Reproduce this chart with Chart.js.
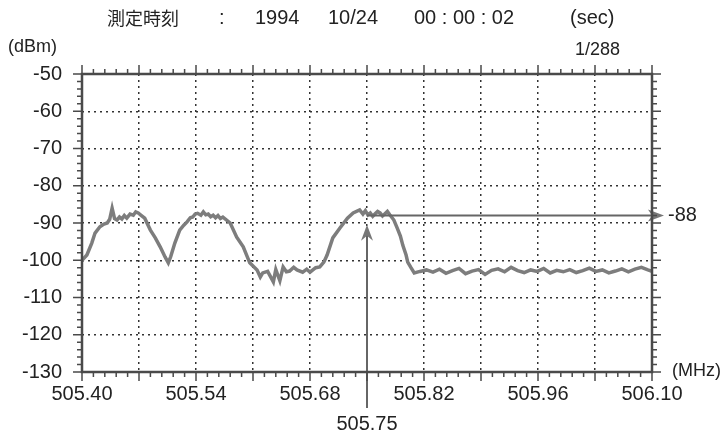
<!DOCTYPE html>
<html>
<head>
<meta charset="utf-8">
<script src="https://cdn.jsdelivr.net/npm/chart.js@4.4.0/dist/chart.umd.min.js"></script>
<style>
body{margin:0;background:#fff;}
#caja{width:721px;height:434px;}
</style>
</head>
<body>
<div id="caja"><canvas id="grafica" width="721" height="434"></canvas></div>
<script>
// datos (MHz / dBm)
const frecuencias=[
505.400,505.406,505.412,505.416,505.422,505.427,505.431,505.434,505.437,505.440,
505.443,505.446,505.449,505.452,505.455,505.459,505.463,505.466,505.469,505.473,
505.477,505.484,505.490,505.496,505.502,505.506,505.509,505.514,505.520,505.525,
505.529,505.533,505.536,505.539,505.542,505.546,505.549,505.552,505.555,505.558,
505.561,505.564,505.567,505.570,505.573,505.582,505.590,505.598,505.606,505.615,
505.619,505.622,505.628,505.635,505.638,505.643,505.647,505.651,505.655,505.660,
505.664,505.671,505.676,505.680,505.687,505.692,505.697,505.701,505.708,505.717,
505.726,505.733,505.741,505.745,505.748,505.751,505.754,505.757,505.760,505.763,
505.766,505.769,505.772,505.775,505.778,505.783,505.787,505.791,505.794,505.798,
505.800,505.804,505.808,505.815,505.823,505.831,505.839,505.847,505.855,505.863,
505.871,505.879,505.887,505.895,505.903,505.911,505.919,505.927,505.935,505.943,
505.951,505.959,505.967,505.975,505.983,505.991,505.999,506.007,506.015,506.023,
506.031,506.039,506.047,506.055,506.063,506.071,506.079,506.087,506.095,506.100
];
const niveles=[
-100.0,-98.6,-95.4,-92.7,-91.0,-90.3,-90.0,-89.0,-86.0,-88.8,
-89.2,-88.4,-88.9,-88.0,-88.7,-87.6,-87.9,-87.0,-87.3,-88.0,
-88.7,-91.9,-94.0,-96.4,-99.1,-100.7,-99.0,-95.4,-91.9,-90.6,
-89.7,-88.6,-88.4,-87.6,-87.4,-87.9,-87.0,-87.8,-87.6,-88.3,
-87.9,-88.6,-88.0,-88.8,-88.4,-90.0,-93.8,-96.4,-100.7,-102.6,
-104.5,-103.4,-103.0,-105.8,-102.5,-105.5,-101.8,-103.1,-102.9,-101.9,
-102.6,-103.2,-102.4,-103.2,-102.0,-101.8,-100.5,-98.6,-94.0,-91.3,
-88.7,-87.3,-86.5,-87.6,-86.7,-87.8,-87.3,-88.2,-87.5,-86.9,
-87.3,-88.1,-87.5,-86.9,-87.8,-89.2,-91.3,-93.5,-96.0,-98.6,
-100.5,-102.0,-103.4,-103.0,-102.6,-103.2,-102.4,-103.5,-102.8,-102.2,
-103.6,-102.9,-102.5,-103.8,-102.7,-102.3,-103.1,-101.9,-102.8,-103.3,
-102.6,-103.0,-102.2,-103.4,-102.7,-103.1,-102.5,-103.3,-102.8,-102.1,
-103.0,-102.6,-103.4,-102.9,-102.3,-103.1,-102.4,-101.9,-102.6,-103.0
];
const rejillaX=[505.40,505.47,505.54,505.61,505.68,505.75,505.82,505.89,505.96,506.03,506.10];
const etiquetasX=[505.40,505.54,505.68,505.82,505.96,506.10];
const etiquetasY=[-130,-120,-110,-100,-90,-80,-70,-60,-50];
const marcaFrec=505.75;
const marcaNivel=-88;
const puntaVertical=-90.5;
const titulo=[["測定時刻",107],[":",219],["1994",255],["10/24",328],["00 : 00 : 02",414],["(sec)",570]];

const fuente="'Liberation Sans', 'Noto Sans', sans-serif";
const fuenteJp="'Noto Sans CJK JP', sans-serif";
const gris='#7d7d7d';

const marco={
    id:'marco',
    afterDatasetsDraw(chart){
        const {ctx,chartArea:a,scales:{x,y}}=chart;
        ctx.save();
        // marcador
        const mx=x.getPixelForValue(marcaFrec);
        const my=y.getPixelForValue(marcaNivel);
        const ty=y.getPixelForValue(puntaVertical);
        ctx.strokeStyle='#666';
        ctx.fillStyle='#777';
        ctx.lineWidth=2;
        ctx.beginPath();
        ctx.moveTo(mx,my);ctx.lineTo(a.right,my);
        ctx.moveTo(mx,a.bottom+36);ctx.lineTo(mx,ty+8);
        ctx.stroke();
        ctx.beginPath();
        ctx.moveTo(a.right+12,my);ctx.lineTo(a.right-4,my-6);ctx.lineTo(a.right,my);ctx.lineTo(a.right-4,my+6);ctx.closePath();
        ctx.fill();
        ctx.beginPath();
        ctx.moveTo(mx,ty);ctx.lineTo(mx-6,ty+16);ctx.lineTo(mx,ty+11);ctx.lineTo(mx+6,ty+16);ctx.closePath();
        ctx.fill();

        // caja y marcas
        ctx.strokeStyle='#4a4a4a';
        ctx.lineWidth=2.5;
        ctx.strokeRect(a.left,a.top,a.right-a.left,a.bottom-a.top);
        ctx.lineWidth=1.5;
        ctx.beginPath();
        for(let i=0;i<=50;i++){
            const px=x.getPixelForValue(505.40+i*0.014);
            const l=i%5===0?9:5;
            ctx.moveTo(px,a.bottom);ctx.lineTo(px,a.bottom+l);
            ctx.moveTo(px,a.top);ctx.lineTo(px,a.top-l);
        }
        for(let i=0;i<=40;i++){
            const py=y.getPixelForValue(-130+i*2);
            const l=i%5===0?9:5;
            ctx.moveTo(a.left,py);ctx.lineTo(a.left-l,py);
            ctx.moveTo(a.right,py);ctx.lineTo(a.right+l,py);
        }
        ctx.stroke();

        // textos
        ctx.fillStyle='#222';
        ctx.textBaseline='middle';
        ctx.textAlign='left';
        titulo.forEach(([t,px])=>{
            ctx.font=(/[^\x00-\x7f]/.test(t)?'18px '+fuenteJp:'20px '+fuente);
            ctx.fillText(t,px,18);
        });
        ctx.font='18px '+fuente;
        ctx.fillText('(dBm)',8,47);
        ctx.fillText('1/288',575,50);
        ctx.font='20px '+fuente;
        ctx.fillText(String(marcaNivel),668,my);
        ctx.font='18px '+fuente;
        ctx.fillText('(MHz)',672,a.bottom-1);
        ctx.font='20px '+fuente;
        ctx.textAlign='center';
        ctx.fillText(marcaFrec.toFixed(2),mx,424);
        ctx.restore();
    }
};

new Chart(document.getElementById('grafica'),{
    type:'line',
    data:{
        datasets:[{
            data:frecuencias.map((f,i)=>({x:f,y:niveles[i]})),
            borderColor:gris,
            borderWidth:3.5,
            pointRadius:0,
            tension:0
        }]
    },
    options:{
        responsive:false,
        animation:false,
        events:[],
        layout:{padding:{left:0,top:74,right:69,bottom:0}},
        plugins:{legend:{display:false},tooltip:{enabled:false}},
        scales:{
            x:{
                type:'linear',
                min:505.40,
                max:506.10,
                afterBuildTicks:s=>{s.ticks=rejillaX.map(v=>({value:v}));},
                afterFit:s=>{s.height=62;},
                grid:{color:'#333',lineWidth:1.5,drawTicks:false},
                border:{display:false,dash:[2,4]},
                ticks:{
                    padding:10,
                    maxRotation:0,
                    autoSkip:false,
                    color:'#222',
                    font:{family:fuente,size:20},
                    callback:v=>etiquetasX.some(e=>Math.abs(e-v)<1e-6)?v.toFixed(2):''
                }
            },
            y:{
                min:-130,
                max:-50,
                afterBuildTicks:s=>{s.ticks=etiquetasY.map(v=>({value:v}));},
                afterFit:s=>{s.width=82;},
                grid:{color:'#333',lineWidth:1.5,drawTicks:false},
                border:{display:false,dash:[2,4]},
                ticks:{
                    padding:20,
                    color:'#222',
                    font:{family:fuente,size:20}
                }
            }
        }
    },
    plugins:[marco]
});
</script>
</body>
</html>
